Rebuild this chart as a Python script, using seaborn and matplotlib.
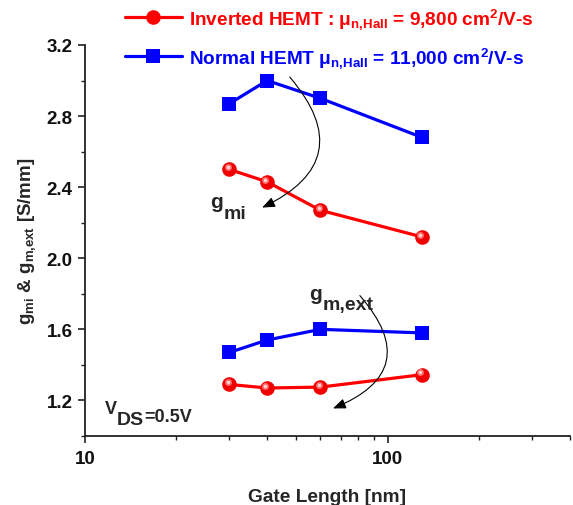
import numpy as np
import pandas as pd
import matplotlib
matplotlib.use("Agg")
import matplotlib.pyplot as plt
import matplotlib.transforms as mtransforms
from matplotlib.lines import Line2D
from matplotlib.ticker import FixedLocator, MultipleLocator, NullFormatter
import seaborn as sns

# Gate length [nm]
gate_length = [30, 40, 60, 130]

# Intrinsic transconductance g_mi [S/mm]
gmi_normal = [2.87, 3.00, 2.90, 2.68]
gmi_inverted = [2.50, 2.43, 2.27, 2.12]

# Extrinsic transconductance g_m,ext [S/mm]
gmext_normal = [1.47, 1.54, 1.60, 1.58]
gmext_inverted = [1.29, 1.27, 1.275, 1.345]

legend_inverted = r"Inverted HEMT : μ$_{n{,}Hall}$ = 9,800 cm$^{2}$/V-s"
legend_normal = r"Normal HEMT μ$_{n{,}Hall}$ = 11,000 cm$^{2}$/V-s"

y_ticks = [1.2, 1.6, 2.0, 2.4, 2.8, 3.2]
x_ticks = [10, 100]

RED = "#ff0000"
BLUE = "#0000ff"

sns.set_theme(style="ticks")
plt.rcParams["font.family"] = ["Liberation Sans", "DejaVu Sans"]
plt.rcParams["font.weight"] = "bold"
plt.rcParams["mathtext.fontset"] = "custom"
plt.rcParams["mathtext.rm"] = "Liberation Sans:bold"
plt.rcParams["mathtext.it"] = "Liberation Sans:bold"
plt.rcParams["mathtext.bf"] = "Liberation Sans:bold"

fig = plt.figure(figsize=(5.73, 5.06), dpi=100)
ax = fig.add_axes([0.1483, 0.1364, 0.846, 0.7727])

df = pd.DataFrame({
    "L": gate_length,
    "gmi_n": gmi_normal,
    "gmi_i": gmi_inverted,
    "gme_n": gmext_normal,
    "gme_i": gmext_inverted,
})

for col in ["gmi_n", "gme_n"]:
    sns.lineplot(data=df, x="L", y=col, ax=ax, color=BLUE, lw=2.3,
                 marker="s", markersize=10, markeredgewidth=0,
                 markerfacecolor=BLUE, legend=False)

# Red markers get a small glossy highlight
highlight = mtransforms.offset_copy(ax.transData, fig=fig, x=-1.3, y=1.6, units="points")
for col in ["gmi_i", "gme_i"]:
    sns.lineplot(data=df, x="L", y=col, ax=ax, color=RED, lw=2.3,
                 marker="o", markersize=10.5, markeredgewidth=0,
                 markerfacecolor="#f00000", legend=False)
    ax.plot(df["L"], df[col], ls="none", marker="o", markersize=5,
            markeredgewidth=0, markerfacecolor="#ff7070", transform=highlight)
    ax.plot(df["L"], df[col], ls="none", marker="o", markersize=2.4,
            markeredgewidth=0, markerfacecolor="#ffd8d8", transform=highlight)

ax.set_xscale("log")
ax.set_xlim(10, 400)
ax.set_ylim(1.0, 3.2)
ax.yaxis.set_major_locator(FixedLocator(y_ticks))
ax.yaxis.set_minor_locator(MultipleLocator(0.2))
ax.xaxis.set_major_locator(FixedLocator(x_ticks))
ax.set_xticklabels([str(v) for v in x_ticks])
ax.set_yticklabels([f"{v:.1f}" for v in y_ticks])
ax.xaxis.set_minor_formatter(NullFormatter())

sns.despine(ax=ax)
for side in ["left", "bottom"]:
    ax.spines[side].set_color("#222222")
    ax.spines[side].set_linewidth(1.3)
ax.tick_params(which="major", direction="out", length=5, width=1.2,
               color="#222222", labelsize=13.5, labelcolor="#111111")
ax.tick_params(axis="x", which="major", pad=5)
ax.tick_params(axis="y", which="major", pad=4)
ax.tick_params(which="minor", direction="out", length=3, width=1.0, color="#222222")
for lbl in ax.get_xticklabels() + ax.get_yticklabels():
    lbl.set_fontweight("bold")

ax.set_xlabel("Gate Length [nm]", fontsize=13.8, fontweight="bold", labelpad=15)
ax.set_ylabel(r"g$_{mi}$ & g$_{m{,}ext}$ [S/mm]", fontsize=13.5, fontweight="bold", labelpad=6)

# Curved arrows pointing at the two groups of curves
arrow = dict(arrowstyle="-|>,head_length=0.7,head_width=0.28", color="black", lw=0.8,
             shrinkA=0, shrinkB=0, mutation_scale=11)
ax.annotate("", xy=(38.5, 2.285), xytext=(47.5, 3.02),
            arrowprops=dict(connectionstyle="arc3,rad=-0.65", **arrow))
ax.annotate("", xy=(66, 1.155), xytext=(81, 1.79),
            arrowprops=dict(connectionstyle="arc3,rad=-0.7", **arrow))


def label_with_sub(x, y, base, sub, size, sub_size, drop, tail=None):
    """Base text followed by a same-weight, lowered subscript (and optional tail)."""
    t = ax.text(x, y, base, fontsize=size, fontweight="bold", ha="left", va="baseline")
    s = ax.annotate(sub, xy=(1, 0), xycoords=t, xytext=(0.3, -drop),
                    textcoords="offset points", fontsize=sub_size, fontweight="bold",
                    ha="left", va="baseline")
    if tail is not None:
        ax.annotate(tail, xy=(1, 0), xycoords=s, xytext=(0.3, drop),
                    textcoords="offset points", fontsize=size, fontweight="bold",
                    ha="left", va="baseline")


label_with_sub(26.0, 2.29, "g", "mi", 15, 14, 5)
label_with_sub(55, 1.77, "g", "m,ext", 15, 14, 4)
label_with_sub(11.6, 1.13, "V", "DS", 13, 14, 5, tail="=0.5V")

handles = [
    Line2D([], [], color=RED, lw=2.3, marker="o", markersize=10.5, markeredgewidth=0),
    Line2D([], [], color=BLUE, lw=2.3, marker="s", markersize=10, markeredgewidth=0),
]
fig.legend(handles, [legend_inverted, legend_normal], loc="upper left",
           bbox_to_anchor=(0.218, 0.987), frameon=False,
           handlelength=3.0, handletextpad=0.37, labelspacing=0.75,
           borderpad=0, borderaxespad=0,
           labelcolor=[RED, BLUE], prop={"weight": "bold", "size": 13.7})

fig.savefig("out.png", dpi=100)
